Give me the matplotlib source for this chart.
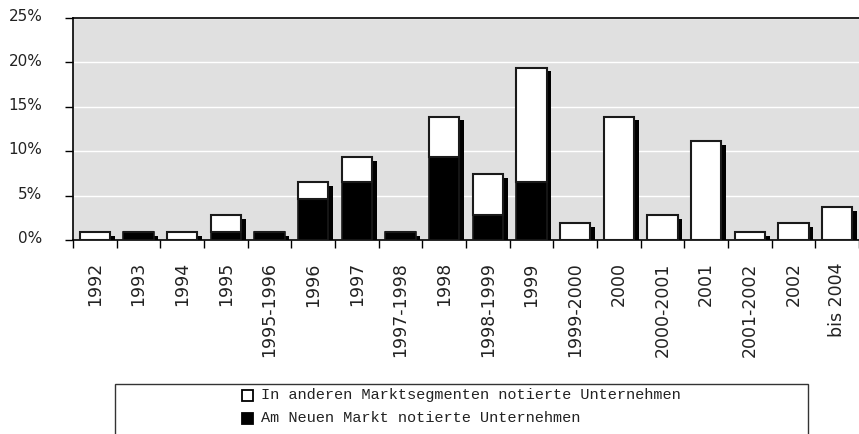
import matplotlib.pyplot as plt
import matplotlib.patches as mpatches
import matplotlib.transforms as mtransforms
import numpy as np

# categories (IPO year / period) and shares in percent
categories = ["1992", "1993", "1994", "1995", "1995-1996", "1996", "1997",
              "1997-1998", "1998", "1998-1999", "1999", "1999-2000", "2000",
              "2000-2001", "2001", "2001-2002", "2002", "bis 2004"]
neuer_markt = [0, 0.9, 0, 0.9, 0.9, 4.6, 6.5, 0.9, 9.3, 2.8, 6.5,
               0, 0, 0, 0, 0, 0, 0]
andere = [0.9, 0, 0.9, 1.9, 0, 1.9, 2.8, 0, 4.6, 4.6, 12.9,
          1.9, 13.9, 2.8, 11.1, 0.9, 1.9, 3.7]
y_ticks = [0, 5, 10, 15, 20, 25]
legend_labels = ["In anderen Marktsegmenten notierte Unternehmen",
                 "Am Neuen Markt notierte Unternehmen"]

W, H = 859, 434
fig = plt.figure(figsize=(W / 100, H / 100), dpi=100)

# plot area placed in pixel units of the reference
ax = fig.add_axes([73 / W, 1 - 240 / H, (W - 73) / W, 222 / H])
ax.set_facecolor("#e0e0e0")

x = np.arange(len(categories))
nm = np.array(neuer_markt)
other = np.array(andere)
total = nm + other

# shadow behind every column
ax.bar(x + 0.107, total - 0.42, width=0.7, color="black", linewidth=0, zorder=2)
# stacked columns
ax.bar(x, nm, width=0.7, color="black", edgecolor="#1a1a1a", linewidth=1.2, zorder=3)
ax.bar(x, other, bottom=nm, width=0.7, color="white", edgecolor="#1a1a1a",
       linewidth=1.5, zorder=3)

ax.set_xlim(-0.5, -0.5 + (W - 73) / 43.94)
ax.set_ylim(0, 25)

# white horizontal gridlines
ax.set_axisbelow(True)
ax.yaxis.grid(True, color="white", linewidth=1.0)

# y axis, labels nudged slightly upward like the reference
ax.set_yticks(y_ticks)
ax.set_yticklabels([f"{v}%" for v in y_ticks], fontsize=11, color="#222222")
ax.tick_params(axis="y", length=6, width=1, color="black", pad=16)
shift = mtransforms.ScaledTranslation(0, 2 / 72, fig.dpi_scale_trans)
for t in ax.get_yticklabels():
    t.set_transform(t.get_transform() + shift)

# x axis: labels at centres, tick marks at category borders
ax.set_xticks(x)
ax.set_xticklabels(categories, rotation=90, fontsize=12.5, color="#222222")
ax.tick_params(axis="x", which="major", length=0, pad=16)
ax.set_xticks(np.arange(-0.5, len(categories), 1), minor=True)
ax.tick_params(axis="x", which="minor", length=6, width=1, color="black")

for side in ["left", "bottom", "top"]:
    ax.spines[side].set_color("black")
    ax.spines[side].set_linewidth(1.2)
ax.spines["right"].set_visible(False)

# legend box running off the bottom edge
fig.patches.append(mpatches.Rectangle((115 / W, -0.05), (808 - 115) / W,
                                      1 - 384 / H + 0.05,
                                      transform=fig.transFigure, facecolor="white",
                                      edgecolor="#333333", linewidth=1.0))
colors = ["white", "black"]
for i, (lab, col) in enumerate(zip(legend_labels, colors)):
    yc = 395 + 23 * i
    fig.patches.append(mpatches.Rectangle((242 / W, 1 - (yc + 5.5) / H), 11 / W, 11 / H,
                                          transform=fig.transFigure, facecolor=col,
                                          edgecolor="black", linewidth=1.3))
    fig.text(261 / W, 1 - yc / H, lab, fontsize=11, family="Liberation Mono",
             va="center", ha="left", color="#222222")

fig.savefig("out.png", dpi=100)
